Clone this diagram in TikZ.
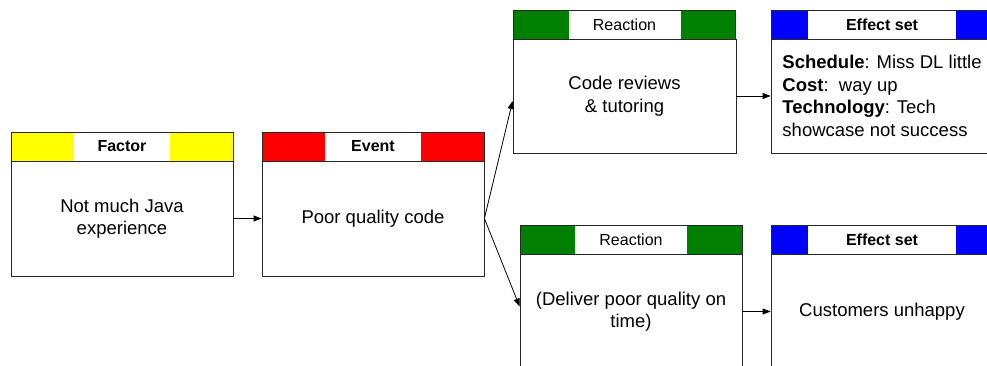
\documentclass[tikz,border=0pt]{standalone}
\usepackage{fontspec}
\setmainfont{Liberation Sans}
\usetikzlibrary{arrows.meta}
\definecolor{cyel}{RGB}{255,255,0}
\definecolor{cred}{RGB}{255,0,0}
\definecolor{cgrn}{RGB}{0,128,0}
\definecolor{cblu}{RGB}{0,0,255}
\definecolor{edge}{RGB}{40,40,40}
\tikzset{
  body/.style={draw=edge, line width=0.8pt, fill=white, minimum width=222pt, minimum height=115pt,
    inner sep=0pt, align=center, font=\fontsize{18.5}{22.5}\selectfont},
  hdr/.style 2 args={draw=edge, line width=0.8pt, minimum width=222pt, minimum height=29pt, inner sep=0pt,
    font=\fontsize{16}{19}\selectfont,
    path picture={
      \fill[#1] (path picture bounding box.north west) rectangle ++(#2,-29pt);
      \fill[#1] (path picture bounding box.north east) rectangle ++(-#2,-29pt);}},
  conn/.style={draw=black, line width=0.8pt, -{Triangle[length=8pt,width=6pt]}},
}
\begin{document}
\begin{tikzpicture}[x=1pt,y=1pt]
\useasboundingbox (0,0) rectangle (987,-365);
\clip (0,0) rectangle (987,-365);
\fill[white] (0,0) rectangle (987,-365);

% Factor
\node[hdr={cyel}{63pt}] (fh) at (122,-146.5) {\textbf{Factor}};
\node[body] (f) at (122,-218.5) {Not much Java\\experience};
% Event
\node[hdr={cred}{63pt}] (evh) at (373,-146.5) {\textbf{Event}};
\node[body] (ev) at (373,-218.5) {Poor quality code};
% Reaction 1
\node[hdr={cgrn}{55pt}] (r1h) at (624.5,-24.5) {Reaction};
\node[body, minimum width=223pt, minimum height=114pt] (r1) at (624.5,-96) {Code reviews\\\& tutoring};
% Effect 1
\node[hdr={cblu}{37pt}] (e1h) at (882,-24.5) {\textbf{Effect set}};
\node[body, minimum height=114pt, align=left] (e1) at (882,-96)
  {\textbf{Schedule}: Miss DL little\\\textbf{Cost}:\ \ way up\\\textbf{Technology}: Tech\\showcase not success};
% Reaction 2
\node[hdr={cgrn}{55pt}] (r2h) at (631,-239.5) {Reaction};
\node[body] (r2) at (631,-311.5) {(Deliver poor quality on\\time)};
% Effect 2
\node[hdr={cblu}{37pt}] (e2h) at (882,-239.5) {\textbf{Effect set}};
\node[body] (e2) at (882,-311.5) {Customers unhappy};

% connectors
\draw[conn] (f.east) -- (ev.west);
\draw[conn] (ev.east) -- ([yshift=-5pt]r1.west);
\draw[conn] (ev.east) -- ([yshift=5pt]r2.west);
\draw[conn] (r1.east) -- (e1.west);
\draw[conn] (r2.east) -- (e2.west);
\end{tikzpicture}
\end{document}
